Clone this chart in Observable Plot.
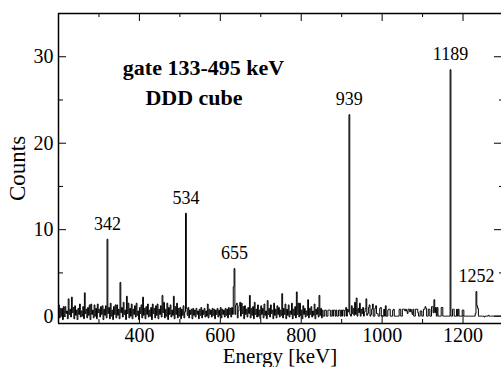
<!DOCTYPE html>
<html>
<head>
<meta charset="utf-8">
<script src="https://cdn.jsdelivr.net/npm/d3@7"></script>
<script src="https://cdn.jsdelivr.net/npm/@observablehq/plot@0.6"></script>
<style>
  html, body { margin: 0; padding: 0; background: #fff; }
</style>
</head>
<body>
<div id="chart"></div>
<script>
// Gamma spectrum (gate 133-495 keV, DDD cube), counts per 2 keV bin starting at 200 keV
const binStart = 200;
const binWidth = 2;
const counts = [
  // 200-238
  1.3,-0.2, 0.9,0.1, 0.9,-0.4, 1.1,0.0, 1.1,0.3, 0.6,-0.3, 2.0,0.2, 0.8,-0.1, 2.2,0.4, 1.0,-0.3,
  // 240-278
  1.2,0.1, 0.7,-0.4, 0.9,0.2, 1.4,-0.1, 0.6,0.0, 1.1,-0.3, 2.7,0.3, 0.8,-0.2, 1.0,0.1, 1.3,-0.4,
  // 280-318
  1.4,0.2, 0.7,-0.2, 1.3,0.0, 0.9,-0.3, 1.4,0.4, 0.8,-0.1, 1.1,0.2, 1.2,-0.4, 0.8,0.1, 1.2,-0.2,
  // 320-358
  8.9,0.3, 1.0,-0.3, 1.5,0.0, 0.7,-0.4, 1.1,0.2, 1.3,-0.2, 1.3,0.1, 0.8,-0.3, 3.9,0.4, 1.0,-0.1,
  // 360-398
  1.6,0.2, 0.7,-0.4, 2.3,0.3, 1.5,-0.2, 0.9,0.0, 1.4,-0.3, 0.8,0.2, 1.2,-0.1, 1.5,0.1, 0.6,-0.4,
  // 400-438
  1.0,0.3, 1.3,-0.2, 2.2,0.1, 0.9,-0.3, 1.1,0.2, 1.4,-0.1, 0.7,0.0, 1.0,-0.4, 1.4,0.3, 0.9,-0.2,
  // 440-478
  1.2,0.1, 1.4,-0.3, 0.8,0.2, 1.2,-0.1, 2.4,0.4, 1.6,-0.2, 0.8,0.0, 1.5,-0.4, 1.0,0.2, 1.3,-0.1,
  // 480-518
  0.7,0.1, 2.3,-0.3, 1.1,0.2, 1.5,-0.2, 0.9,0.0, 1.0,-0.3, 0.8,0.1, 1.2,-0.2, 0.5,11.9, 0.9,0.1,
  // 520-558
  1.0,-0.2, 0.7,0.2, 0.8,-0.3, 0.9,0.1, 0.7,-0.1, 0.9,0.2, 0.6,-0.3, 0.8,0.1, 1.0,-0.2, 0.7,0.2,
  // 560-598
  0.9,-0.1, 0.6,0.0, 1.4,-0.2, 0.8,0.2, 0.7,-0.1, 0.9,0.1, 0.8,-0.3, 0.7,0.2, 0.9,-0.1, 0.7,0.1,
  // 600-638
  1.0,-0.2, 0.8,0.2, 0.7,-0.1, 0.9,0.1, 0.8,-0.2, 1.0,0.2, 0.9,-0.1, 1.0,0.2, 3.4,5.5, 0.2,1.3,
  // 640-678
  1.5,-0.2, 0.6,1.2, 1.6,0.0, 1.5,0.3, 1.1,-0.3, 1.2,0.2, 0.8,-0.1, 1.0,0.3, 2.4,-0.2, 0.9,0.1,
  // 680-718
  1.1,-0.3, 1.6,0.2, 0.8,-0.1, 1.3,0.0, 0.7,-0.3, 1.2,0.2, 0.9,-0.2, 1.4,0.1, 0.6,-0.3, 1.8,0.2,
  // 720-758
  0.9,-0.1, 1.3,0.3, 0.7,-0.3, 1.5,0.1, 0.8,-0.2, 1.2,0.2, 1.0,-0.1, 0.7,0.1, 2.6,-0.2, 0.9,0.2,
  // 760-798
  1.4,-0.3, 0.8,0.1, 1.3,-0.1, 0.6,0.2, 1.5,-0.3, 0.8,0.1, 1.1,-0.2, 2.8,0.2, 1.5,-0.1, 1.5,0.1,
  // 800-838
  0.7,-0.3, 1.2,0.2, 0.9,-0.1, 0.6,0.1, 1.9,-0.2, 0.9,0.2, 1.1,-0.1, 0.6,0.1, 1.4,-0.3, 0.8,0.2,
  // 840-878
  1.0,-0.1, 2.4,0.1, 0.9,-0.2, 0.7,0.0, 0.0,0.7, 0.7,0.0, 0.0,0.7, 0.7,0.7, 0.0,0.0, 0.7,0.0,
  // 880-918
  0.7,0.7, 0.0,0.7, 0.0,0.0, 0.7,0.7, 0.0,0.7, 0.0,0.7, 0.7,0.0, 0.7,1.0, 0.0,0.8, 0.5,23.3,
  // 920-958
  0.2,0.0, 1.2,0.3, 0.9,0.1, 1.6,0.2, 2.1,0.0, 0.9,0.4, 1.5,0.0, 0.8,0.3, 1.0,0.0, 0.5,0.9,
  // 960-998
  2.0,0.1, 0.3,1.0, 1.3,0.0, 0.2,0.8, 1.4,0.0, 0.0,0.9, 1.2,0.3, 0.3,0.0, 0.0,0.9, 1.0,0.0,
  // 1000-1038
  0.0,0.0, 0.8,0.0, 1.2,0.0, 0.0,0.7, 0.8,0.8, 0.0,0.0, 0.0,0.7, 0.8,0.0, 0.0,0.0, 0.0,0.0,
  // 1040-1078
  0.0,0.8, 0.8,0.0, 0.0,0.8, 0.8,0.8, 0.6,0.8, 0.6,0.3, 0.8,0.8, 0.5,0.8, 0.5,0.2, 0.8,0.0,
  // 1080-1118
  0.0,0.8, 0.8,0.8, 0.4,0.0, 0.0,0.6, 0.6,0.0, 0.0,0.8, 0.8,1.1, 0.9,0.0, 0.0,0.8, 0.8,0.0,
  // 1120-1158
  0.0,1.1, 1.1,0.4, 1.9,0.4, 1.0,0.0, 1.0,0.0, 0.0,0.0, 0.0,1.0, 1.0,0.0, 0.0,0.0, 0.0,0.0,
  // 1160-1198
  0.0,0.0, 0.0,0.0, 28.5,0.0, 0.0,0.8, 0.8,0.0, 0.0,0.0, 0.8,0.0, 0.8,0.0, 0.0,0.0, 0.0,0.7,
  // 1200-1238
  0.7,0.0, 0.0,0.0, 0.0,0.0, 0.0,0.0, 0.0,0.0, 0.0,0.0, 0.0,0.0, 0.0,0.3, 2.85,1.2, 0.9,0.0,
  // 1240-1278
  0.0,0.0, 0.0,0.0, 0.0,0.0, -0.1,0.0, 0.0,0.0, 0.0,0.1, 0.0,0.0, 0.0,0.0, 0.0,0.0, 0.0,0.0,
  // 1280-1298
  0.0,0.0, 0.0,0.0, 0.0,0.0, 0.0,0.0, 0.0,0.0
];

// Peak annotations
const peakLabels = ["342", "534", "655", "939", "1189", "1252"];
const peakEnergies = [321, 515, 635, 919, 1169, 1233];
const peakHeights = [8.9, 11.9, 5.5, 23.3, 28.5, 2.85];

// Axis ticks
const xDomain = [200, 1300];
const yDomain = [-0.85, 35];
const xMajor = [400, 600, 800, 1000, 1200];
const xMinor = [300, 500, 700, 900, 1100];
const yMajor = [0, 10, 20, 30];
const yMinor = [5, 15, 25];

const titleLines = ["gate 133-495 keV", "DDD cube"];

const spectrum = counts.map((c, i) => ({energy: binStart + binWidth * i, count: c}));
const peaks = peakLabels.map((t, i) => ({label: t, energy: peakEnergies[i], count: peakHeights[i]}));

const W = 501, H = 367, mL = 58, mR = 0, mT = 13, mB = 44;
const innerW = W - mL - mR, innerH = H - mT - mB;
const font = "'Liberation Serif', 'Times New Roman', serif";

const chart = Plot.plot({
  width: W,
  height: H,
  marginLeft: mL,
  marginRight: mR,
  marginTop: mT,
  marginBottom: mB,
  style: {fontFamily: font, fontSize: "20px", background: "#fff", color: "#000"},
  x: {domain: xDomain, range: [mL, 503]},
  y: {domain: yDomain},
  marks: [
    Plot.line(spectrum, {x: "energy", y: "count", curve: "step-after", stroke: "#000", strokeWidth: 1}),
    // frame (left, top, bottom)
    Plot.ruleX([xDomain[0]], {stroke: "#000", strokeWidth: 1.5}),
    Plot.ruleY([yDomain[0]], {stroke: "#000", strokeWidth: 1.5}),
    Plot.ruleY([yDomain[1]], {stroke: "#000", strokeWidth: 1.5}),
    // inward ticks
    Plot.tickX(xMajor, {x: d => d, insetTop: innerH - 8, stroke: "#000"}),
    Plot.tickX(xMinor, {x: d => d, insetTop: innerH - 4, stroke: "#000"}),
    Plot.tickX(xMajor, {x: d => d, insetBottom: innerH - 8, stroke: "#000"}),
    Plot.tickX(xMinor, {x: d => d, insetBottom: innerH - 4, stroke: "#000"}),
    Plot.tickY(yMajor, {y: d => d, insetRight: innerW - 8, stroke: "#000"}),
    Plot.tickY(yMinor, {y: d => d, insetRight: innerW - 5, stroke: "#000"}),
    Plot.tickY(yMajor, {y: d => d, insetLeft: innerW - 7, stroke: "#000"}),
    Plot.tickY(yMinor, {y: d => d, insetLeft: innerW - 2, stroke: "#000"}),
    // axes (labels only)
    Plot.axisX({ticks: xMajor, tickSize: 0, tickPadding: 4, fontSize: 20, tickFormat: d => String(d),
      label: null}),
    Plot.axisX({ticks: [], label: "Energy [keV]", labelAnchor: "center", labelOffset: 39,
      labelArrow: "none", fontSize: 21, tickSize: 0}),
    Plot.axisY({ticks: yMajor, tickSize: 0, tickPadding: 5, fontSize: 20, tickFormat: d => String(d),
      label: null}),
    Plot.axisY({ticks: [], label: "Counts", labelAnchor: "center", labelOffset: 50,
      labelArrow: "none", fontSize: 23, tickSize: 0}),
    // peak labels
    Plot.text(peaks, {x: "energy", y: "count", text: "label", dy: -15, lineAnchor: "middle",
      fontSize: 18, fill: "#000"}),
    // title annotation
    Plot.text([titleLines[0]], {text: d => d, frameAnchor: "top-left", dx: 145, dy: 54,
      textAnchor: "middle", lineAnchor: "middle", fontWeight: "bold", fontSize: 22, fill: "#000"}),
    Plot.text([titleLines[1]], {text: d => d, frameAnchor: "top-left", dx: 135.5, dy: 84,
      textAnchor: "middle", lineAnchor: "middle", fontWeight: "bold", fontSize: 22, fill: "#000"})
  ]
});
document.getElementById("chart").appendChild(chart);
</script>
</body>
</html>
